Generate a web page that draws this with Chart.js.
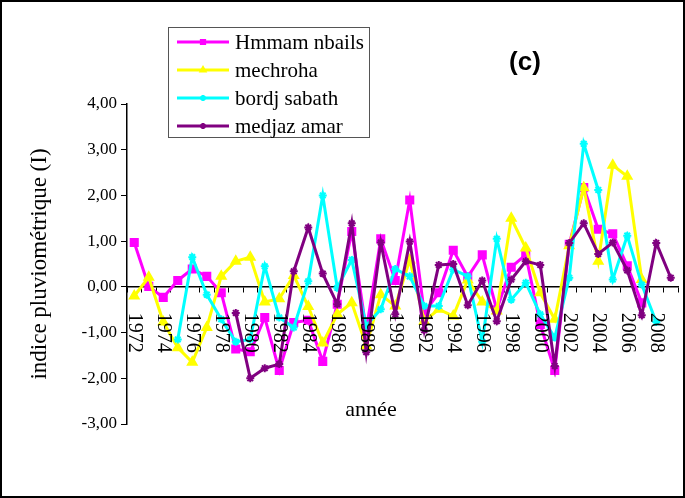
<!DOCTYPE html>
<html>
<head>
<meta charset="utf-8">
<script src="https://cdn.jsdelivr.net/npm/chart.js@4/dist/chart.umd.min.js"></script>
<style>
  html, body { margin: 0; padding: 0; background: #fff; }
  #wrap { width: 685px; height: 498px; }
</style>
</head>
<body>
<div id="wrap"><canvas id="c" width="685" height="498"></canvas></div>
<script>
// Years of record (1972-2009)
const years = ['1972','1973','1974','1975','1976','1977','1978','1979','1980','1981',
  '1982','1983','1984','1985','1986','1987','1988','1989','1990','1991',
  '1992','1993','1994','1995','1996','1997','1998','1999','2000','2001',
  '2002','2003','2004','2005','2006','2007','2008','2009'];

// Labels shown under the zero line (every other year)
const yearTicks = ['1972','','1974','','1976','','1978','','1980','',
  '1982','','1984','','1986','','1988','','1990','',
  '1992','','1994','','1996','','1998','','2000','',
  '2002','','2004','','2006','','2008',''];

const seriesNames = ['Hmmam nbails', 'mechroha', 'bordj sabath', 'medjaz amar'];

// Rainfall index per station
const hmmamNbails = [0.97, 0.01, -0.23, 0.14, 0.39, 0.23, -0.13, -1.36, -1.42, -0.67,
  -1.83, -0.78, -0.73, -1.63, -0.38, 1.21, -0.95, 1.05, 0.14, 1.90,
  -0.57, -0.13, 0.80, 0.22, 0.70, -0.50, 0.43, 0.70, -0.82, -1.83,
  0.93, 2.17, 1.26, 1.16, 0.46, -0.35, null, null];

const mechroha = [-0.20, 0.21, -0.77, -1.33, -1.65, -0.89, 0.23, 0.56, 0.65, -0.33,
  -0.26, 0.25, -0.43, -1.23, -0.60, -0.35, -1.29, -0.17, -0.42, 0.59,
  -0.75, -0.49, -0.64, 0.15, -0.33, -0.53, 1.50, 0.85, -0.13, -0.71,
  0.90, 2.17, 0.56, 2.66, 2.42, 0.16, null, null];

const bordjSabath = [null, null, null, -1.15, 0.65, -0.17, -0.71, -1.20, -1.15, 0.45,
  -0.67, -0.89, 0.12, 2.00, -0.02, 0.59, -0.85, -0.49, 0.39, 0.23,
  -0.42, -0.42, 0.38, 0.23, -1.20, 1.05, -0.28, 0.09, -0.60, -1.11,
  0.20, 3.13, 2.12, 0.16, 1.12, 0.05, -0.77, null];

const medjazAmar = [null, null, null, null, null, null, null, -0.57, -2.00, -1.78,
  -1.69, 0.34, 1.30, 0.29, -0.38, 1.39, -1.43, 0.97, -0.60, 0.99,
  -0.95, 0.48, 0.50, -0.40, 0.14, -0.75, 0.16, 0.56, 0.48, -1.73,
  0.96, 1.39, 0.72, 0.97, 0.36, -0.62, 0.96, 0.20];

const SERIF = '"Liberation Serif", "Times New Roman", serif';

const datasets = [
  { label: seriesNames[0], data: hmmamNbails, borderColor: '#FF00FF', backgroundColor: '#FF00FF',
    pointStyle: 'rect', pointRadius: 5, order: 4 },
  { label: seriesNames[1], data: mechroha, borderColor: '#FFFF00', backgroundColor: '#FFFF00',
    pointStyle: 'triangle', pointRadius: 5, order: 3 },
  { label: seriesNames[2], data: bordjSabath, borderColor: '#00FFFF', backgroundColor: '#00FFFF',
    pointStyle: 'star', pointRadius: 4, order: 2 },
  { label: seriesNames[3], data: medjazAmar, borderColor: '#800080', backgroundColor: '#800080',
    pointStyle: 'star', pointRadius: 4, order: 1 }
].map(d => Object.assign(d, {
  borderWidth: 3, pointBorderWidth: 2, pointBackgroundColor: d.borderColor,
  pointBorderColor: d.borderColor, tension: 0, spanGaps: false, fill: false
}));

// Year labels, legend, captions and frame
const decorations = {
  id: 'decorations',
  afterDraw(chart) {
    const ctx = chart.ctx;
    const xs = chart.scales.x, ys = chart.scales.y;
    const y0 = ys.getPixelForValue(0);
    ctx.save();
    ctx.fillStyle = '#000';

    // rotated year labels below the zero line
    ctx.font = '20px ' + SERIF;
    ctx.textAlign = 'left';
    ctx.textBaseline = 'middle';
    yearTicks.forEach((lab, i) => {
      if (!lab) return;
      ctx.save();
      ctx.translate(xs.getPixelForValue(i), y0 + 26);
      ctx.rotate(Math.PI / 2);
      ctx.fillText(lab, 0, 0);
      ctx.restore();
    });

    // x axis caption
    ctx.font = '22px ' + SERIF;
    ctx.textAlign = 'center';
    ctx.fillText('année', 371, 410);

    // panel tag
    ctx.font = 'bold 26px "Liberation Sans", Arial, sans-serif';
    ctx.fillText('(c)', 525, 63);

    // legend
    const lx = 168, ly = 27, lw = 201, lh = 110;
    ctx.fillStyle = '#fff';
    ctx.fillRect(lx, ly, lw, lh);
    ctx.strokeStyle = '#555';
    ctx.lineWidth = 1;
    ctx.strokeRect(lx + 0.5, ly + 0.5, lw, lh);
    const rows = [42, 70, 98, 126];
    chart.data.datasets.forEach((ds, i) => {
      const y = rows[i];
      ctx.strokeStyle = ds.borderColor;
      ctx.fillStyle = ds.borderColor;
      ctx.lineWidth = 3;
      ctx.beginPath();
      ctx.moveTo(177, y);
      ctx.lineTo(229, y);
      ctx.stroke();
      ctx.lineWidth = 2;
      Chart.helpers.drawPoint(ctx, { pointStyle: ds.pointStyle, radius: 3, rotation: 0, borderWidth: 2 }, 203, y);
      ctx.fillStyle = '#000';
      ctx.font = '21px ' + SERIF;
      ctx.textAlign = 'left';
      ctx.textBaseline = 'middle';
      ctx.fillText(ds.label, 235, y + 1);
    });

    // outer frame
    ctx.strokeStyle = '#000';
    ctx.lineWidth = 2;
    ctx.strokeRect(1, 1, chart.width - 2, chart.height - 2);
    ctx.restore();
  }
};

new Chart(document.getElementById('c'), {
  type: 'line',
  data: { labels: years, datasets },
  options: {
    responsive: false,
    animation: false,
    devicePixelRatio: 1,
    layout: { padding: { top: 104, bottom: 74, left: 0, right: 1 } },
    plugins: { legend: { display: false }, tooltip: { enabled: false } },
    scales: {
      x: {
        type: 'category',
        position: { y: 0 },
        offset: true,
        ticks: { display: false },
        grid: { display: true, drawOnChartArea: false, drawTicks: true, tickLength: 5,
                offset: true, color: '#000', lineWidth: 1 },
        border: { display: true, color: '#000', width: 1.5 }
      },
      y: {
        min: -3, max: 4,
        ticks: {
          stepSize: 1, color: '#000', padding: 4,
          font: { family: SERIF, size: 17 },
          callback: v => v.toFixed(2).replace('.', ',')
        },
        grid: { display: true, drawOnChartArea: false, drawTicks: true, tickLength: 6,
                color: '#000', lineWidth: 1 },
        border: { display: true, color: '#000', width: 1.5 },
        title: { display: true, text: 'indice pluviométrique (I)', color: '#000',
                 font: { family: SERIF, size: 23 }, padding: { top: 26, bottom: 0 } },
        afterFit: s => { s.width = 127; }
      }
    }
  },
  plugins: [decorations]
});
</script>
</body>
</html>
